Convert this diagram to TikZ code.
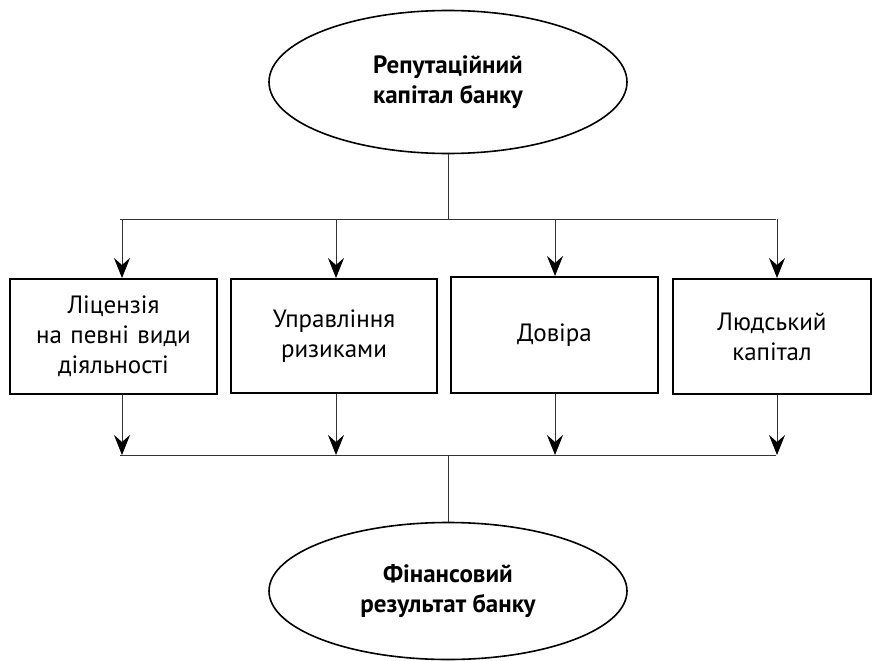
\documentclass[tikz,border=0pt]{standalone}
\usepackage{fontspec}
\setmainfont{PT Sans}
\usetikzlibrary{arrows.meta,positioning,shapes.geometric}
\definecolor{linec}{HTML}{333333}
\tikzset{
  ar/.style={-{Stealth[length=20pt,width=16pt,inset=7pt,black]},line width=1pt,linec},
  ln/.style={line width=1pt,linec},
  box/.style={draw,line width=2pt,align=center,inner sep=0pt,text width=180pt,font=\fontsize{25}{30}\selectfont},
  oval/.style={draw,ellipse,line width=1.6pt,align=center,inner sep=0pt,minimum width=358pt,font=\fontsize{25}{30}\selectfont\bfseries}
}
\begin{document}
\begin{tikzpicture}[x=1pt,y=-1pt]
\useasboundingbox (0,0) rectangle (873,661);
\node[oval,minimum height=143pt] (rep) at (448,82) {Репутаційний\\капітал банку};
\node[box,minimum width=207pt,minimum height=115pt] (lic) at (113.5,336.5) {Ліцензія\\на певні види\\діяльності};
\node[box,minimum width=206pt,minimum height=114pt] (risk) at (334,336) {Управління\\ризиками};
\node[box,minimum width=207pt,minimum height=116pt] (trust) at (554.5,335) {Довіра};
\node[box,minimum width=198pt,minimum height=115pt] (hum) at (772,336.5) {Людський\\капітал};
\node[oval,minimum height=137pt] (fin) at (448,591) {Фінансовий\\результат банку};
\coordinate (tl) at (120,219); \coordinate (tr) at (776,219);
\coordinate (bl) at (120,455); \coordinate (br) at (776,455);
\draw[ln] (rep.south) -- (rep.south |- tl);
\draw[ln] (tl) -- (tr);
\draw[ln] (bl) -- (br);
\draw[ln] (fin.north |- bl) -- (fin.north);
\foreach \b/\x in {lic/122,risk/336,trust/555,hum/777}{
  \coordinate (t\b) at (\x,219);
  \draw[ar] (t\b) -- (t\b |- \b.north);
  \draw[ar] (t\b |- \b.south) -- (t\b |- bl);
}
\end{tikzpicture}
\end{document}
